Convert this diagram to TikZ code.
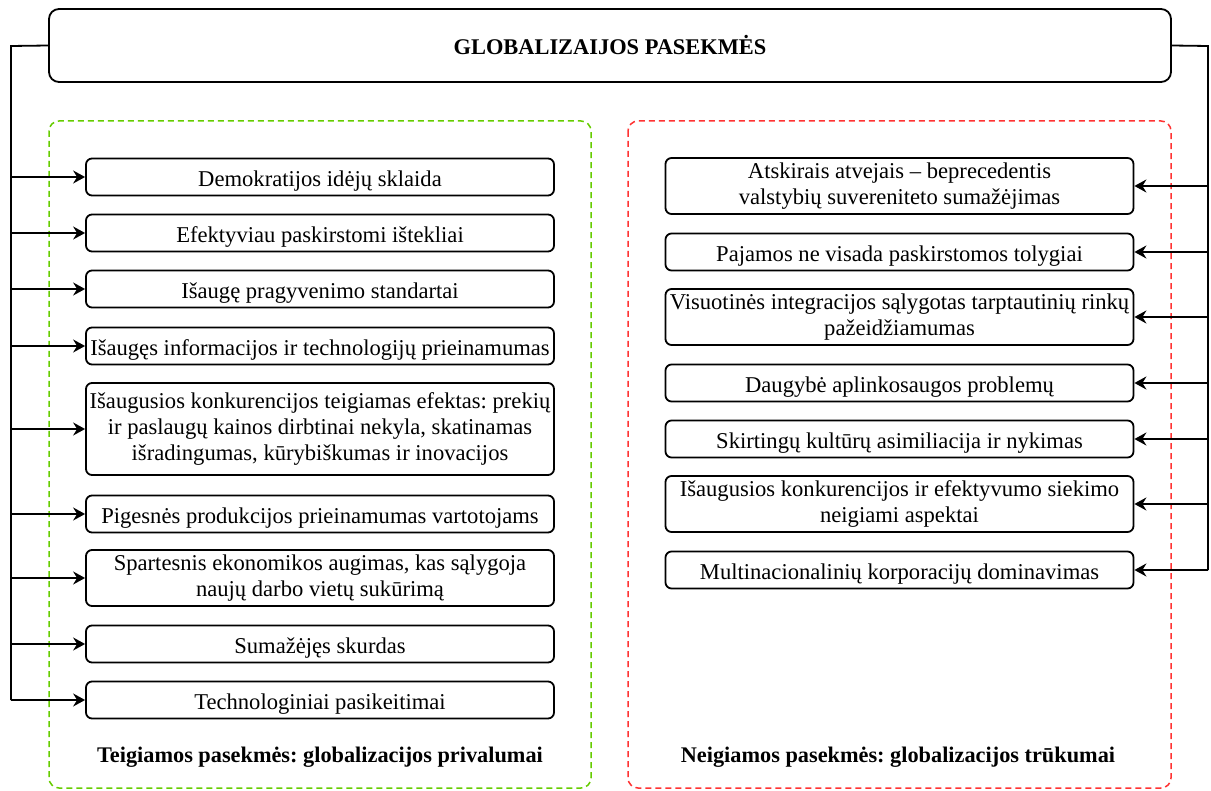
\documentclass[tikz,border=0pt]{standalone}
\usepackage{fontspec}
\setmainfont{Liberation Serif}
\usetikzlibrary{arrows.meta}
\definecolor{plusgreen}{RGB}{102,204,0}
\definecolor{minusred}{RGB}{255,51,51}
\frenchspacing

\begin{document}
\begin{tikzpicture}[x=0.5pt,y=-0.5pt,font=\fontsize{11.3}{12.8}\selectfont]
  \tikzstyle{item}=[draw,line width=0.9pt,rounded corners=3pt,align=center,inner sep=0pt,minimum width=234pt,minimum height=18.5pt,execute at begin node={\rule{0pt}{12pt}}]
  \tikzstyle{group}=[line width=0.75pt,dash pattern=on 3pt off 2pt,rounded corners=5pt]
  \tikzstyle{link}=[line width=0.9pt]
  \tikzstyle{arr}=[line width=0.9pt,-{Stealth[length=6pt,width=6.5pt,inset=2pt]}]
  \tikzstyle{caption}=[font=\fontsize{11.15}{12}\selectfont\bfseries]
  \useasboundingbox (0,0) rectangle (1211,791);
  % title
  \node[draw,line width=0.9pt,rounded corners=5pt,minimum width=561pt,minimum height=36.5pt,inner sep=0pt,font=\fontsize{11.2}{12}\selectfont\bfseries] (title) at (610,45.5) {GLOBALIZAIJOS PASEKMĖS};
  % groups
  \draw[group,plusgreen] (49,121) rectangle (591,788);
  \draw[group,minusred] (628,121) rectangle (1171,788);
  \node[caption] (plus) at (320,757) {Teigiamos pasekmės: globalizacijos privalumai};
  \node[caption] (minus) at (898,757) {Neigiamos pasekmės: globalizacijos trūkumai};
  % advantages
  \node[item] (p1) at (320,177) {Demokratijos idėjų sklaida};
  \node[item] (p2) at (320,233) {Efektyviau paskirstomi ištekliai};
  \node[item] (p3) at (320,289) {Išaugę pragyvenimo standartai};
  \node[item] (p4) at (320,346) {Išaugęs informacijos ir technologijų prieinamumas};
  \node[item,minimum height=46pt] (p5) at (320,429) {Išaugusios konkurencijos teigiamas efektas: prekių\\ir paslaugų kainos dirbtinai nekyla, skatinamas\\išradingumas, kūrybiškumas ir inovacijos};
  \node[item] (p6) at (320,514) {Pigesnės produkcijos prieinamumas vartotojams};
  \node[item,minimum height=28pt] (p7) at (320,578) {Spartesnis ekonomikos augimas, kas sąlygoja\\naujų darbo vietų sukūrimą};
  \node[item] (p8) at (320,644) {Sumažėjęs skurdas};
  \node[item] (p9) at (320,700) {Technologiniai pasikeitimai};
  % disadvantages
  \node[item,minimum height=28pt] (n1) at (899.5,186) {Atskirais atvejais – beprecedentis\\valstybių suvereniteto sumažėjimas};
  \node[item] (n2) at (899.5,252) {Pajamos ne visada paskirstomos tolygiai};
  \node[item,minimum height=28pt] (n3) at (899.5,317) {Visuotinės integracijos sąlygotas tarptautinių rinkų\\pažeidžiamumas};
  \node[item] (n4) at (899.5,383) {Daugybė aplinkosaugos problemų};
  \node[item] (n5) at (899.5,439) {Skirtingų kultūrų asimiliacija ir nykimas};
  \node[item,minimum height=28pt] (n6) at (899.5,504) {Išaugusios konkurencijos ir efektyvumo siekimo\\neigiami aspektai};
  \node[item] (n7) at (899.5,570) {Multinacionalinių korporacijų dominavimas};
  % bus lines
  \coordinate (lbus) at (11,46);
  \coordinate (rbus) at (1208,46);
  \draw[link] (title.west) -- (lbus) -- (lbus |- p9);
  \draw[link] (title.east) -- (rbus) -- (rbus |- n7);
  \draw[arr] (lbus |- p1) -- (p1);
  \draw[arr] (lbus |- p2) -- (p2);
  \draw[arr] (lbus |- p3) -- (p3);
  \draw[arr] (lbus |- p4) -- (p4);
  \draw[arr] (lbus |- p5) -- (p5);
  \draw[arr] (lbus |- p6) -- (p6);
  \draw[arr] (lbus |- p7) -- (p7);
  \draw[arr] (lbus |- p8) -- (p8);
  \draw[arr] (lbus |- p9) -- (p9);
  \draw[arr] (rbus |- n1) -- (n1);
  \draw[arr] (rbus |- n2) -- (n2);
  \draw[arr] (rbus |- n3) -- (n3);
  \draw[arr] (rbus |- n4) -- (n4);
  \draw[arr] (rbus |- n5) -- (n5);
  \draw[arr] (rbus |- n6) -- (n6);
  \draw[arr] (rbus |- n7) -- (n7);
\end{tikzpicture}
\end{document}
